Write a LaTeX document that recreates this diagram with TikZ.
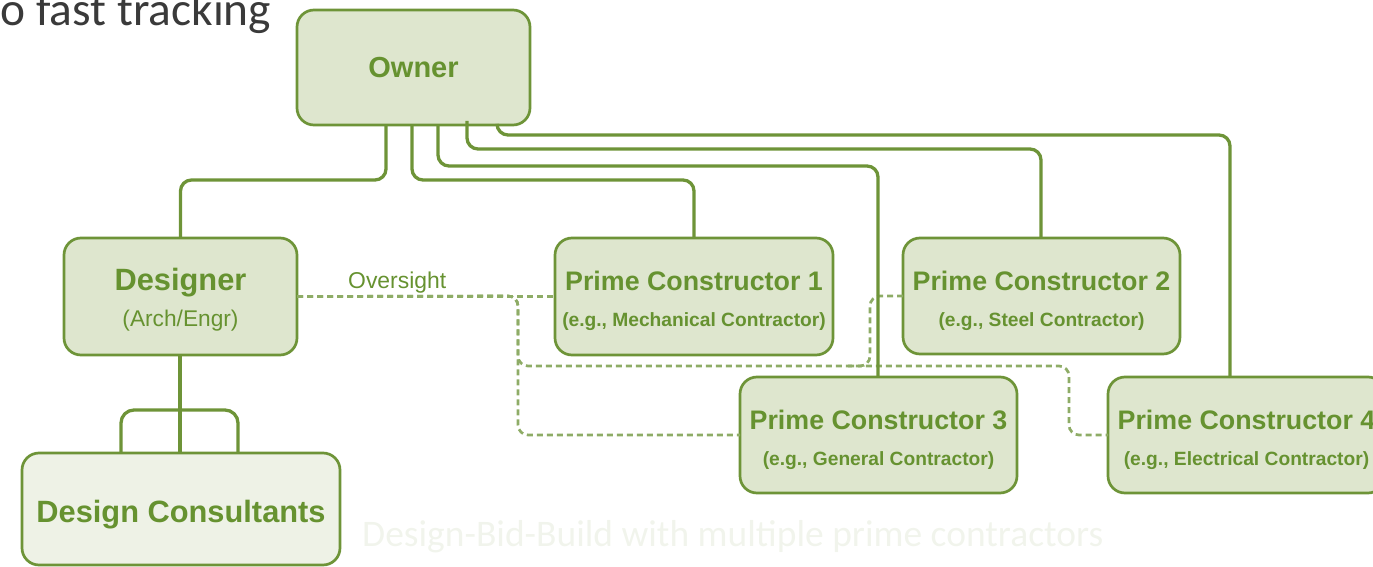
\documentclass[tikz,border=0pt]{standalone}
\usepackage{fontspec}
\setmainfont{Liberation Sans}
\newfontfamily\carlito{Carlito}
\usetikzlibrary{calc}

\definecolor{linegreen}{RGB}{110,148,56}
\definecolor{textgreen}{RGB}{102,146,48}
\definecolor{boxfill}{RGB}{222,230,206}
\definecolor{palefill}{RGB}{238,242,230}
\definecolor{dashgreen}{RGB}{142,172,102}
\definecolor{captiongray}{RGB}{241,244,236}
\definecolor{slidetext}{RGB}{58,58,58}

\tikzset{
  party/.style={draw=linegreen, line width=2.7pt, fill=boxfill, rounded corners=17pt,
    inner sep=0pt, outer sep=0pt},
  prime/.style={party, minimum width=277pt, minimum height=116pt},
  boxtitle/.style={text=textgreen, inner sep=0pt, anchor=base,
    font=\fontsize{26.8}{30}\selectfont\bfseries},
  boxsub/.style={text=textgreen, inner sep=0pt, anchor=base,
    font=\fontsize{19.2}{22}\selectfont\bfseries},
  contract/.style={draw=linegreen, line width=3.3pt, rounded corners=11pt},
  oversee/.style={draw=dashgreen, line width=2.7pt, dash pattern=on 6pt off 4pt,
    rounded corners=10pt},
}

\begin{document}
\begin{tikzpicture}[x=1pt, y=-1pt]
\useasboundingbox (0,0) rectangle (1373,567);

% slide text around the chart
\node[anchor=base west, inner sep=0pt, text=slidetext,
  font=\carlito\fontsize{47.4}{50}\selectfont] (slidetitle) at (0.5,26) {o fast tracking};
\node[anchor=base west, inner sep=0pt, text=captiongray,
  font=\carlito\fontsize{37.5}{40}\selectfont] (caption) at (362,546)
  {Design-Bid-Build with multiple prime contractors};

% parties
\node[party, minimum width=233pt, minimum height=115pt] (owner) at (413.5,67.5) {};
\node[boxtitle, font=\fontsize{29}{32}\selectfont\bfseries] (ownert) at (413.5,78) {Owner};

\node[party, minimum width=233pt, minimum height=117pt] (designer) at (180.5,296.5) {};
\node[boxtitle, font=\fontsize{30.8}{34}\selectfont\bfseries] (designert) at (180.5,290) {Designer};
\node[boxsub, font=\fontsize{22.7}{26}\selectfont] (designers) at (180.5,326.5) {(Arch/Engr)};

\node[party, fill=palefill, minimum width=318pt, minimum height=112pt] (consult) at (181,509) {};
\node[boxtitle, font=\fontsize{30.8}{34}\selectfont\bfseries] (consultt) at (181,522.5) {Design Consultants};

\node[prime, minimum width=278pt, minimum height=117pt] (pc1) at (694,296.5) {};
\node[boxtitle] (pc1t) at (694,290) {Prime Constructor 1};
\node[boxsub] (pc1s) at (694,326) {(e.g., Mechanical Contractor)};

\node[prime] (pc2) at (1041.5,296) {};
\node[boxtitle] (pc2t) at (1041.5,290) {Prime Constructor 2};
\node[boxsub] (pc2s) at (1041.5,326) {(e.g., Steel Contractor)};

\node[prime] (pc3) at (878.5,435) {};
\node[boxtitle] (pc3t) at (878.5,429) {Prime Constructor 3};
\node[boxsub] (pc3s) at (878.5,465) {(e.g., General Contractor)};

\node[prime] (pc4) at (1246.5,435) {};
\node[boxtitle] (pc4t) at (1246.5,429) {Prime Constructor 4};
\node[boxsub] (pc4s) at (1246.5,465) {(e.g., Electrical Contractor)};

% oversight by the designer (dashed)
\node[anchor=base west, inner sep=0pt, text=textgreen,
  font=\fontsize{22.9}{26}\selectfont] (oversight) at (348,288) {Oversight};
\coordinate (tee) at (518,296);
\coordinate (lowrun) at (518,366);
\coordinate (eastrun) at (1069,366);
\coordinate (pc2drop) at (870,296);
\coordinate (pc2join) at (848,366);
\draw[oversee] (designer.east) -- (pc1.west);
\draw[oversee] (designer.east) -- (tee) -- (tee |- pc3.west) -- (pc3.west);
\draw[oversee] (designer.east) -- (tee) -- (lowrun) -- (eastrun)
  -- (eastrun |- pc4.west) -- (pc4.west);
\draw[oversee] (pc2.west) -- (pc2drop) -- (pc2drop |- lowrun) -- (pc2join);

% contracts from the owner
\draw[contract] ([xshift=-27.5pt]owner.south) -- ++(0,55) -| (designer.north);
\draw[contract] ([xshift=-1.5pt]owner.south) -- ++(0,55) -| (pc1.north);
\draw[contract] ([xshift=24.5pt]owner.south) -- ++(0,41) -| ([xshift=-0.5pt]pc3.north);
\draw[contract] ([xshift=53.5pt,yshift=4pt]owner.south) -- ++(0,28) -| ([xshift=-0.5pt]pc2.north);
\draw[contract] ([xshift=83.5pt]owner.south) -- ++(0,10) -| ([xshift=-16.5pt]pc4.north);

% designer to consultants
\draw[contract] ([xshift=-0.5pt]designer.south) -- ([xshift=-1pt]consult.north);
\coordinate (bracketl) at (121,453);
\coordinate (bracketr) at (238,453);
\draw[contract, rounded corners=13pt] (bracketl) -- ++(0,-43) -| (bracketr);
\end{tikzpicture}
\end{document}
